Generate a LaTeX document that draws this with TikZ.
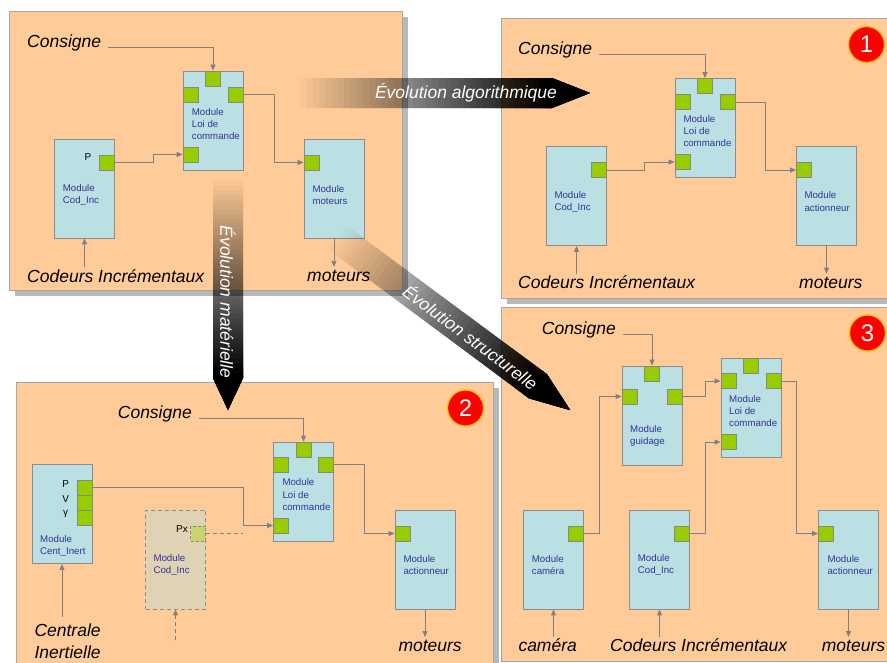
\documentclass[tikz,border=0pt]{standalone}
\usepackage{fontspec}
\setmainfont{Liberation Sans}
\usetikzlibrary{arrows.meta}

\tikzset{
  panel/.style={draw=panel_edge, fill=panel_orange, line width=0.8pt},
  module/.style={draw=box_edge, fill=box_blue, line width=0.8pt, inner sep=0pt,
    minimum width=60pt, minimum height=99pt},
  ghost/.style={module, fill=ghost_tan, dash pattern=on 4pt off 3pt},
  port/.style={draw=port_edge, fill=port_green, line width=0.8pt, inner sep=0pt, minimum size=15pt},
  ghostport/.style={port, fill=ghost_green, dash pattern=on 3pt off 2pt},
  modtext/.style={anchor=west, inner sep=0pt, align=left, text=text_navy,
    font=\fontsize{9.7}{12.2}\selectfont},
  portlbl/.style={inner sep=0pt, font=\fontsize{10}{12}\selectfont},
  lbl/.style={anchor=west, inner sep=2pt, text height=12.5pt, text depth=3.7pt,
    font=\itshape\fontsize{17.5}{21.6}\selectfont},
  wire/.style={draw=wire_grey, line width=0.9pt, -{Triangle[length=6pt,width=5pt]}},
  num/.style={circle, fill=num_red, draw=num_edge, line width=1.2pt, minimum size=36pt,
    inner sep=0pt, text=white, font=\fontsize{24}{28}\selectfont},
  evol/.style={text=white, inner sep=0pt, font=\itshape\fontsize{17.5}{21}\selectfont}
}

% big fading arrow: start, angle, body length, tip length
\newcommand{\evolarrow}[4]{%
  \begin{scope}[shift={#1}, rotate=#2]
    \foreach \k [evaluate=\k as \op using 1/(41-\k)] in {1,...,40}
      \fill[black, fill opacity=\op] ({(\k-1)*#3/40},-15) -- (#3,-15) -- ({#3+#4},0)
        -- (#3,15) -- ({(\k-1)*#3/40},15) -- cycle;
  \end{scope}}

\begin{document}
\begin{tikzpicture}[x=1pt, y=-1pt]
    \definecolor{panel_orange}{HTML}{FFCC99}
    \definecolor{panel_edge}{HTML}{A6A6A6}
    \definecolor{shadow_grey}{HTML}{B8B8B8}
    \definecolor{box_blue}{HTML}{BBE0E3}
    \definecolor{box_edge}{HTML}{8C8C8C}
    \definecolor{port_green}{HTML}{99CC00}
    \definecolor{port_edge}{HTML}{7F8C7F}
    \definecolor{ghost_tan}{HTML}{E0D2B4}
    \definecolor{ghost_green}{HTML}{C8D46E}
    \definecolor{text_navy}{HTML}{333399}
    \definecolor{wire_grey}{HTML}{808080}
    \definecolor{num_red}{HTML}{FF0000}
    \definecolor{num_edge}{HTML}{FFC000}
    \useasboundingbox (0,0) rectangle (887,662);
    \fill[white] (0,0) rectangle (887,662);
    % panels with their shadows
    \fill[shadow_grey] (15,17) rectangle (408,296);
    \path[panel] (9,11) rectangle (402,290);
    \fill[shadow_grey] (507,24) rectangle (895,304);
    \path[panel] (501,18) rectangle (890,298);
    \fill[shadow_grey] (22,388) rectangle (499,668);
    \path[panel] (16,382) rectangle (493,666);
    \path[panel] (501,307) rectangle (890,661);

    % panel A
    \node[module] (loiA) at (213,120.5) {};
    \node[module] (codA) at (84.5,188.5) {};
    \node[module] (motA) at (334,188.5) {};
    \node[port] (loiA-t) at (213,78.5) {};
    \node[port] (loiA-l) at (190.5,94.5) {};
    \node[port] (loiA-r) at (235.5,94.5) {};
    \node[port] (loiA-b) at (190.5,154.5) {};
    \node[port] (codA-p) at (107,162.5) {};
    \node[port] (motA-l) at (311.5,162.5) {};
    \node[modtext] (loiA-txt) at (191.7,124.3) {Module\\Loi de\\commande};
    \node[modtext] (codA-txt) at (62.7,195) {Module\\Cod\_Inc};
    \node[modtext] (motA-txt) at (312.3,195) {Module\\moteurs};
    \node[portlbl] (codA-P) at (88,157.3) {P};
    \node[lbl] (consA) at (25,43.3) {Consigne};
    \node[lbl] (codeursA) at (25,277.6) {Codeurs Incrémentaux};
    \node[lbl] (moteursA) at (305,277.1) {moteurs};
    \draw[wire] ([xshift=5pt]consA.base east) -| (loiA-t);
    \draw[wire] (codA-p.east) -- ++(38.5,0) |- (loiA-b);
    \draw[wire] (loiA-r.east) -- ++(31,0) |- (motA-l);
    \draw[wire] (codA |- codeursA.north) -- (codA);
    \draw[wire] (motA) -- (motA |- moteursA.north);

    % panel 1
    \node[module] (loi1) at (705,128) {};
    \node[module] (cod1) at (576.5,196) {};
    \node[module] (act1) at (826.5,196) {};
    \node[port] (loi1-t) at (705,86) {};
    \node[port] (loi1-l) at (682.5,102) {};
    \node[port] (loi1-r) at (727.5,102) {};
    \node[port] (loi1-b) at (682.5,162) {};
    \node[port] (cod1-p) at (599,170) {};
    \node[port] (act1-l) at (804,170) {};
    \node[modtext] (loi1-txt) at (683.3,131.3) {Module\\Loi de\\commande};
    \node[modtext] (cod1-txt) at (554.3,201.6) {Module\\Cod\_Inc};
    \node[modtext] (act1-txt) at (804.3,201.6) {Module\\actionneur};
    \node[lbl] (cons1) at (516,49.9) {Consigne};
    \node[lbl] (codeurs1) at (516,283.9) {Codeurs Incrémentaux};
    \node[lbl] (moteurs1) at (797,283.9) {moteurs};
    \node[num] (num1) at (866.5,44.5) {1};
    \draw[wire] ([xshift=5pt]cons1.base east) -| (loi1-t);
    \draw[wire] (cod1-p.east) -- ++(38,0) |- (loi1-b);
    \draw[wire] (loi1-r.east) -- ++(30,0) |- (act1-l);
    \draw[wire] (cod1 |- codeurs1.north) -- (cod1);
    \draw[wire] (act1) -- (act1 |- moteurs1.north);

    % panel 2
    \node[module] (loi2) at (303.5,491.5) {};
    \node[module] (cent2) at (62,514) {};
    \node[ghost] (cod2) at (175.5,559.5) {};
    \node[module] (act2) at (425,559.5) {};
    \node[port] (loi2-t) at (303.5,449.5) {};
    \node[port] (loi2-l) at (281,464.5) {};
    \node[port] (loi2-r) at (326,464.5) {};
    \node[port] (loi2-b) at (281,525.5) {};
    \node[port] (cent2-p) at (84.5,487.5) {};
    \node[port] (cent2-v) at (84.5,502.5) {};
    \node[port] (cent2-g) at (84.5,517.5) {};
    \node[ghostport] (cod2-p) at (198,533.5) {};
    \node[port] (act2-l) at (402.5,533.5) {};
    \node[modtext] (loi2-txt) at (282.3,494.7) {Module\\Loi de\\commande};
    \node[modtext] (cent2-txt) at (40,546) {Module\\Cent\_Inert};
    \node[modtext] (cod2-txt) at (153.3,565) {Module\\Cod\_Inc};
    \node[modtext] (act2-txt) at (403.3,565) {Module\\actionneur};
    \node[portlbl] (cent2-P) at (65.7,484) {P};
    \node[portlbl] (cent2-V) at (65.7,499) {V};
    \node[portlbl] (cent2-G) at (65.7,514) {γ};
    \node[portlbl] (cod2-Px) at (182,529.5) {Px};
    \node[lbl] (cons2) at (115.7,413.9) {Consigne};
    \node[lbl, align=left, text height=, text depth=, anchor=north west, inner sep=0pt]
      (centrale2) at (34.3,624) {Centrale\\Inertielle};
    \node[lbl] (moteurs2) at (396.3,647.3) {moteurs};
    \node[num] (num2) at (465.5,408) {2};
    \draw[wire] ([xshift=5pt]cons2.base east) -| (loi2-t);
    \draw[wire] (cent2-p.east) -- ++(151,0) |- (loi2-b);
    \draw[wire, -, dash pattern=on 4pt off 3pt] (cod2-p.east) -- ++(37.5,0);
    \draw[wire, dash pattern=on 4pt off 3pt] (cod2.south) ++(0,31) -- (cod2.south);
    \draw[wire] (loi2-r.east) -- ++(30.5,0) |- (act2-l);
    \draw[wire] (cent2 |- centrale2.north) ++(0,-7) -- (cent2);
    \draw[wire] (act2) -- (act2 |- moteurs2.north);

    % panel 3
    \node[module] (guid3) at (652,415.5) {};
    \node[module] (loi3) at (751,408) {};
    \node[module] (cam3) at (553.5,559.5) {};
    \node[module] (cod3) at (659.5,559.5) {};
    \node[module] (act3) at (848.5,559.5) {};
    \node[port] (guid3-t) at (652,373.5) {};
    \node[port] (guid3-l) at (629.5,396.5) {};
    \node[port] (guid3-r) at (674.5,396.5) {};
    \node[port] (loi3-t) at (751,366) {};
    \node[port] (loi3-l) at (728.5,381) {};
    \node[port] (loi3-r) at (773.5,381) {};
    \node[port] (loi3-b) at (728.5,442) {};
    \node[port] (cam3-p) at (576,533.5) {};
    \node[port] (cod3-p) at (682,533.5) {};
    \node[port] (act3-l) at (826,533.5) {};
    \node[modtext] (guid3-txt) at (630,436) {Module\\guidage};
    \node[modtext] (loi3-txt) at (729,411) {Module\\Loi de\\commande};
    \node[modtext] (cam3-txt) at (531.7,565) {Module\\caméra};
    \node[modtext] (cod3-txt) at (637.7,565) {Module\\Cod\_Inc};
    \node[modtext] (act3-txt) at (827.3,565) {Module\\actionneur};
    \node[lbl] (cons3) at (539.7,329.9) {Consigne};
    \node[lbl] (camera3) at (516.3,647.3) {caméra};
    \node[lbl] (codeurs3) at (608,647.3) {Codeurs Incrémentaux};
    \node[lbl] (moteurs3) at (819.7,647.3) {moteurs};
    \node[num] (num3) at (867.5,333) {3};
    \draw[wire] ([xshift=5pt]cons3.base east) -| (guid3-t);
    \draw[wire] (guid3-r.east) -- ++(23,0) |- (loi3-l);
    \draw[wire] (cam3-p.east) -- ++(15.5,0) |- (guid3-l);
    \draw[wire] (cod3-p.east) -- ++(15.5,0) |- (loi3-b);
    \draw[wire] (loi3-r.east) -- ++(15,0) |- (act3-l);
    \draw[wire] (cam3 |- camera3.north) -- (cam3);
    \draw[wire] (cod3 |- codeurs3.north) -- (cod3);
    \draw[wire] (act3) -- (act3 |- moteurs3.north);

    % evolution arrows
    \evolarrow{(300,93)}{0}{252}{38}
    \node[evol] (evolA) at (466,93) {Évolution algorithmique};
    \evolarrow{(228,180)}{-90}{198}{32}
    \node[evol, rotate=-90] (evolM) at (228,302) {Évolution matérielle};
    \evolarrow{(338,238)}{-36.55}{249}{40}
    \node[evol, rotate=-36.55] (evolS) at (471,337) {Évolution structurelle};
\end{tikzpicture}
\end{document}
